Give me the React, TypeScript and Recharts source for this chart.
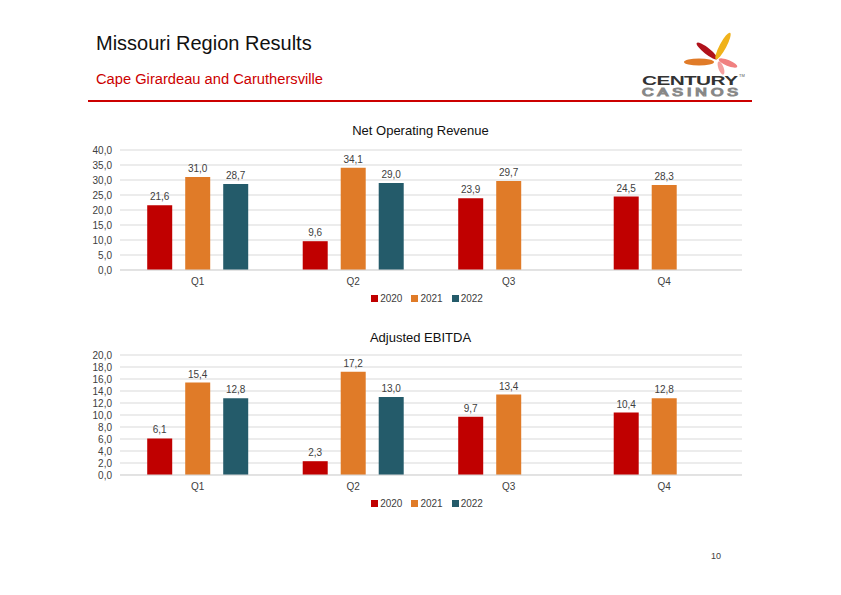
import React from 'react';
import { BarChart, Bar, XAxis, YAxis, CartesianGrid, Legend, LabelList } from 'recharts';

/* ─── Data ─────────────────────────────────────────────────────────────── */
const QUARTERS = ['Q1', 'Q2', 'Q3', 'Q4'];
const REV_2020 = [21.6, 9.6, 23.9, 24.5];
const REV_2021 = [31.0, 34.1, 29.7, 28.3];
const REV_2022: (number | null)[] = [28.7, 29.0, null, null];
const EBITDA_2020 = [6.1, 2.3, 9.7, 10.4];
const EBITDA_2021 = [15.4, 17.2, 13.4, 12.8];
const EBITDA_2022: (number | null)[] = [12.8, 13.0, null, null];
const REV_TICKS = [0, 5, 10, 15, 20, 25, 30, 35, 40];
const EBITDA_TICKS = [0, 2, 4, 6, 8, 10, 12, 14, 16, 18, 20];

const revenueData = QUARTERS.map((q, i) => ({ q, y2020: REV_2020[i], y2021: REV_2021[i], y2022: REV_2022[i] }));
const ebitdaData = QUARTERS.map((q, i) => ({ q, y2020: EBITDA_2020[i], y2021: EBITDA_2021[i], y2022: EBITDA_2022[i] }));

const RED = '#C00000';
const ORANGE = '#E07B28';
const TEAL = '#245B6A';
const FONT = '"Liberation Sans", Arial, sans-serif';
const fmt = (v: unknown) => (typeof v === 'number' ? v.toFixed(1).replace('.', ',') : '');

const LEGEND_ITEMS = [
    { name: '2020', color: RED },
    { name: '2021', color: ORANGE },
    { name: '2022', color: TEAL },
];

function YearLegend() {
    return (
        <div style={{ display: 'flex', justifyContent: 'center', gap: 9, fontSize: 10, fontFamily: FONT, color: '#404040', paddingTop: 3, transform: 'translateX(21px)' }}>
            {LEGEND_ITEMS.map((it) => (
                <span key={it.name} style={{ display: 'flex', alignItems: 'center' }}>
                    <span style={{ display: 'inline-block', width: 7, height: 7, background: it.color, marginRight: 2 }} />
                    {it.name}
                </span>
            ))}
        </div>
    );
}

function QuarterChart({ data, ticks, max }: { data: typeof revenueData; ticks: number[]; max: number }) {
    const labelStyle = { fontSize: 10, fill: '#404040', fontFamily: FONT };
    return (
        <BarChart
            width={700}
            height={164}
            data={data}
            margin={{ top: 10, right: 18, left: 10, bottom: 0 }}
            barCategoryGap="17.5%"
            barGap={13}
        >
            <CartesianGrid vertical={false} stroke="#d9d9d9" />
            <XAxis
                dataKey="q"
                tickLine={false}
                axisLine={{ stroke: '#d9d9d9' }}
                tick={{ fontSize: 10, fill: '#404040', fontFamily: FONT }}
                tickMargin={2}
                height={20}
            />
            <YAxis
                width={50}
                domain={[0, max]}
                ticks={ticks}
                interval={0}
                tickLine={false}
                axisLine={false}
                tickFormatter={fmt}
                tick={{ fontSize: 10, fill: '#404040', fontFamily: FONT }}
            />
            <Legend verticalAlign="bottom" align="center" content={() => <YearLegend />} />
            <Bar dataKey="y2020" name="2020" fill={RED} isAnimationActive={false}>
                <LabelList dataKey="y2020" position="top" offset={5} formatter={fmt} style={labelStyle} />
            </Bar>
            <Bar dataKey="y2021" name="2021" fill={ORANGE} isAnimationActive={false}>
                <LabelList dataKey="y2021" position="top" offset={5} formatter={fmt} style={labelStyle} />
            </Bar>
            <Bar dataKey="y2022" name="2022" fill={TEAL} isAnimationActive={false}>
                <LabelList dataKey="y2022" position="top" offset={5} formatter={fmt} style={labelStyle} />
            </Bar>
        </BarChart>
    );
}

function Logo() {
    return (
        <svg width={120} height={80} style={{ position: 'absolute', left: 636, top: 28 }}>
            <g transform="translate(80,31)">
                <ellipse cx={-9} cy={-8} rx={13} ry={3.2} fill="#B0121B" transform="rotate(38 -9 -8)" />
                <ellipse cx={7} cy={-13} rx={15} ry={3.4} fill="#F0B21B" transform="rotate(-62 7 -13)" />
                <ellipse cx={-17} cy={3} rx={15} ry={3.6} fill="#E07B28" />
                <ellipse cx={12} cy={4} rx={10} ry={3} fill="#F08080" transform="rotate(22 12 4)" />
                <ellipse cx={5} cy={9} rx={7} ry={2.6} fill="#F4A0A0" transform="rotate(70 5 9)" />
            </g>
            <text transform="translate(6,56.5) scale(1.6,1)" fontFamily={FONT} fontWeight={700} fontSize={13} fill="#333" textLength={60} lengthAdjust="spacing">
                CENTURY
            </text>
            <text x={103} y={49} fontFamily={FONT} fontSize={4} fill="#555">TM</text>
            <text transform="translate(6,67.5) scale(1.6,1)" fontFamily={FONT} fontSize={10} fill="#fff" stroke="#888" strokeWidth={1.1} textLength={60} lengthAdjust="spacing">
                CASINOS
            </text>
        </svg>
    );
}

export default function App() {
    return (
        <div style={{ position: 'absolute', left: 0, top: 0, width: 841, height: 595, background: '#fff', fontFamily: FONT, overflow: 'hidden' }}>
            <div style={{ position: 'absolute', left: 96, top: 32, fontSize: 20, color: '#111' }}>Missouri Region Results</div>
            <div style={{ position: 'absolute', left: 96, top: 71, fontSize: 14.7, color: '#CC0000' }}>Cape Girardeau and Caruthersville</div>
            <div style={{ position: 'absolute', left: 88, top: 100, width: 664, height: 2, background: '#CC0000' }} />
            <Logo />

            <div style={{ position: 'absolute', left: 0, top: 123, width: 841, textAlign: 'center', fontSize: 13, color: '#111' }}>
                Net Operating Revenue
            </div>
            <div style={{ position: 'absolute', left: 60, top: 140 }}>
                <QuarterChart data={revenueData} ticks={REV_TICKS} max={40} />
            </div>

            <div style={{ position: 'absolute', left: 0, top: 330, width: 841, textAlign: 'center', fontSize: 13, color: '#111' }}>
                Adjusted EBITDA
            </div>
            <div style={{ position: 'absolute', left: 60, top: 345 }}>
                <QuarterChart data={ebitdaData} ticks={EBITDA_TICKS} max={20} />
            </div>

            <div style={{ position: 'absolute', left: 711, top: 551, fontSize: 9, color: '#404040' }}>10</div>
        </div>
    );
}
